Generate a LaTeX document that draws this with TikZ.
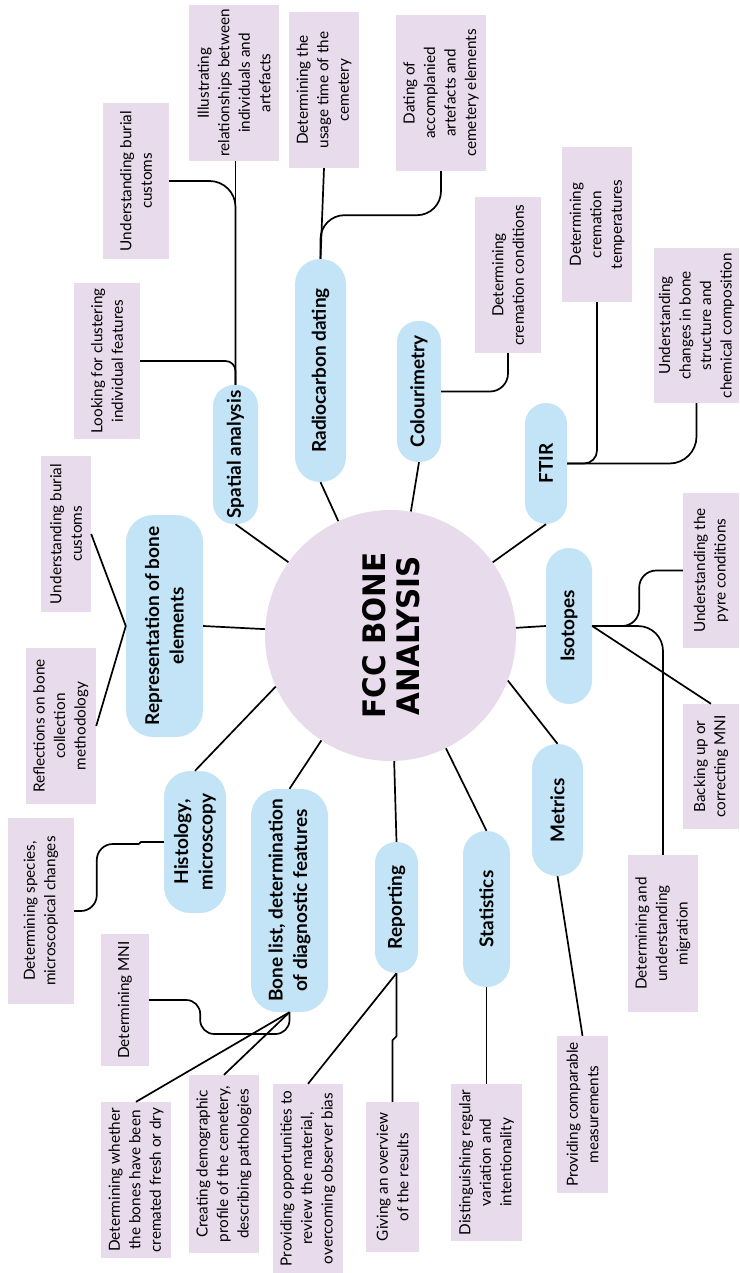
\documentclass[tikz,border=0pt]{standalone}
\usepackage{fontspec}
\setmainfont{Lato}
\newfontfamily\titlefont[FakeStretch=0.95]{DejaVu Sans}
\usetikzlibrary{calc}
\definecolor{leafc}{RGB}{232,219,236}
\definecolor{pillc}{RGB}{195,228,246}
\begin{document}
\begin{tikzpicture}[x=1pt,y=-1pt,
 leaf/.style={fill=leafc, rotate=90, align=center, inner sep=0pt, font=\fontsize{15.3}{20.5}\selectfont},
 pill/.style={fill=pillc, rotate=90, align=center, inner sep=0pt, rounded corners=21pt, font=\bfseries\fontsize{19}{24.5}\selectfont},
 conn/.style={line width=1.7pt, line join=round}]
\useasboundingbox (0,0) rectangle (739,1273);

% centre
\node[circle, fill=leafc, minimum size=251pt, inner sep=0pt] (C0) at (390.5,635.5) {};
\node[rotate=90, align=center, inner sep=0pt, font=\titlefont\bfseries\fontsize{31}{34}\selectfont] (title) at (391,635.5) {FCC BONE\\ANALYSIS};

% leaves
\node[leaf, minimum width=156pt, minimum height=90pt] (l1) at (234,83) {Illustrating\\relationships between\\individuals and\\artefacts};
\node[leaf, minimum width=156pt, minimum height=70pt] (l2) at (324,90) {Determining the\\usage time of the\\cemetery};
\node[leaf, minimum width=156pt, minimum height=66pt] (l3) at (136,181) {Understanding burial\\customs};
\node[leaf, minimum width=156pt, minimum height=66pt] (l4) at (107,361) {Looking for clustering\\individual features};
\node[leaf, minimum width=156pt, minimum height=50pt] (l5) at (66,534) {Understanding burial\\customs};
\node[leaf, minimum width=156pt, minimum height=70pt] (l6) at (61,726) {Reflections on bone\\collection\\methodology};
\node[leaf, minimum width=186pt, minimum height=66pt] (l7) at (41,911) {Determining species,\\microscopical changes};
\node[leaf, minimum width=132pt, minimum height=48pt] (l8) at (125,1000) {Determining MNI};
\node[leaf, minimum width=156pt, minimum height=70pt] (l9) at (136,1180) {Determining whether\\the bones have been\\cremated fresh or dry};
\node[leaf, minimum width=178pt, minimum height=70pt] (l10) at (224,1164) {Creating demographic\\profile of the cemetery,\\describing pathologies};
\node[leaf, minimum width=189pt, minimum height=70pt] (l11) at (308,1178.5) {Providing opportunities to\\review the material,\\overcoming observer bias};
\node[leaf, minimum width=150pt, minimum height=53pt] (l12) at (392.5,1177) {Giving an overview\\of the results};
\node[leaf, minimum width=157pt, minimum height=71pt] (l13) at (486.5,1162.5) {Distinguishing regular\\variation and\\intentionality};
\node[leaf, minimum width=157pt, minimum height=51pt] (l14) at (582.5,1114.5) {Providing comparable\\measurements};
\node[leaf, minimum width=157pt, minimum height=70pt] (l15) at (663,933.5) {Determining and\\understanding\\migration};
\node[leaf, minimum width=125pt, minimum height=56pt] (l16) at (711,766.5) {Backing up or\\correcting MNI};
\node[leaf, minimum width=155pt, minimum height=56pt] (l17) at (711,570.5) {Understanding the\\pyre conditions};
\node[leaf, minimum width=155pt, minimum height=85pt] (l18) at (696.5,325.5) {Understanding\\changes in bone\\structure and\\chemical composition};
\node[leaf, minimum width=155pt, minimum height=70pt] (l19) at (597,224.5) {Determining\\cremation\\temperatures};
\node[leaf, minimum width=156pt, minimum height=66pt] (l20) at (508,275) {Determining\\cremation conditions};
\node[leaf, minimum width=156pt, minimum height=90pt] (l21) at (441,93) {Dating of\\accomplanied\\artefacts and\\cemetery elements};

% pills
\node[pill, minimum width=139pt, minimum height=45pt] (A) at (235.5,454.5) {Spatial analysis};
\node[pill, rounded corners=25pt, minimum width=223pt, minimum height=51pt] (B) at (320.5,370.5) {Radiocarbon dating};
\node[pill, minimum width=141pt, minimum height=44pt] (C) at (419,391.5) {Colourimetry};
\node[pill, minimum width=121pt, minimum height=42pt] (D) at (546,463.5) {FTIR};
\node[pill, rounded corners=23pt, minimum width=156pt, minimum height=46pt] (E) at (569,626) {Isotopes};
\node[pill, rounded corners=25pt, minimum width=132pt, minimum height=51pt] (F) at (557.5,810) {Metrics};
\node[pill, rounded corners=23pt, minimum width=156pt, minimum height=47pt] (G) at (486.5,909) {Statistics};
\node[pill, minimum width=131pt, minimum height=43pt] (H) at (396.5,907.5) {Reporting};
\node[pill, rounded corners=27pt, minimum width=223pt, minimum height=77pt] (I) at (289.5,900.5) {Bone list, determination\\of diagnostic features};
\node[pill, rounded corners=26pt, minimum width=142pt, minimum height=62pt] (J) at (195,842) {Histology,\\microscopy};
\node[pill, rounded corners=27pt, minimum width=222pt, minimum height=77pt] (K) at (164.5,626) {Representation of bone\\elements};

% centre connectors
\draw[conn] (A.west) -- (C0);
\draw[conn] (B.west) -- (C0);
\draw[conn] (C.west) -- (C0);
\draw[conn] (D.west) -- (C0);
\draw[conn] (E.north) -- (C0);
\draw[conn] (F.east) -- (C0.339);
\draw[conn] (G.east) -- (C0);
\draw[conn] (H.east) -- (C0);
\draw[conn] (I.east) -- (C0);
\draw[conn] (J.east) -- (C0.204);
\draw[conn] (K.south) -- (C0);

% leaf connectors
\draw[conn] (A.east) -- (A.east |- l1.west);
\draw[conn, rounded corners=26pt] (l3.south) -| (A.east);
\draw[conn, rounded corners=10pt] (l4.south) -| (A.east);
\draw[conn] (B.east) -- (l2.west);
\draw[conn, rounded corners=24pt] (B.east) |- ($(l21.west)+(0,44)$) -- (l21.west);
\draw[conn, rounded corners=18pt] (C.south) -| (l20.west);
\draw[conn, rounded corners=13pt] (D.south) -| (l19.west);
\draw[conn, rounded corners=27pt] (D.south) -| (l18.west);
\draw[conn, rounded corners=17pt] (E.south) -- ++(47,0) |- (l17.north);
\draw[conn, rounded corners=25pt] (E.south) -| (l15.east);
\draw[conn] (E.south) -- (l16.east);
\draw[conn] (F.west) -- (l14.east);
\draw[conn] (G.west) -- (l13.east);
\draw[conn] (H.west) -- ++(0,63) -- ++(-4,4) -- (l12.east);
\draw[conn] (H.west) -- (l11.east);
\draw[conn, rounded corners=14pt] (l8.south) -- ++(51,0) -- ++(0,34) -| (I.west);
\draw[conn] (I.west) -- (l9.east);
\draw[conn] (I.west) -- (l10.east);
\draw[conn] (J.north) -- ++(-23,0) -- ++(-2,2) coordinate (jh);
\draw[conn, rounded corners=16pt] (jh) -- ++(-42,0) |- (l7.south);
\draw[conn] (K.north) -- (l5.south);
\draw[conn] (K.north) -- (l6.south);
\end{tikzpicture}
\end{document}
